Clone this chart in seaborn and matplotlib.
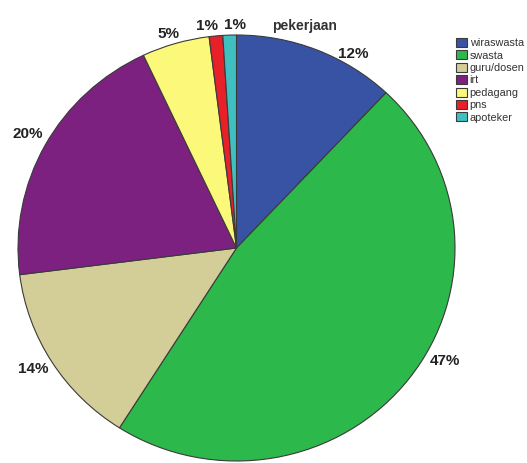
import matplotlib
matplotlib.use("Agg")
import matplotlib.pyplot as plt
import seaborn as sns

# ---- data ----
categories = ["wiraswasta", "swasta", "guru/dosen", "irt", "pedagang", "pns", "apoteker"]
values = [12, 47, 14, 20, 5, 1, 1]
pct_labels = ["12%", "47%", "14%", "20%", "5%", "1%", "1%"]
title = "pekerjaan"

# ---- style ----
colors = ["#3953A4", "#2DB84B", "#D3CE97", "#7C2180", "#FBF87A", "#E8202A", "#3FBFC0"]
label_xy = [(0.533, 0.911), (0.954, -0.531), (-0.931, -0.568), (-0.954, 0.535),
            (-0.309, 1.005), (-0.135, 1.042), (-0.007, 1.047)]

sns.set_theme(style="white")
plt.rcParams["font.family"] = ["Liberation Sans", "DejaVu Sans"]
palette = sns.color_palette(colors)

W, H = 527, 463
fig = plt.figure(figsize=(W / 100, H / 100), dpi=100)
fig.patch.set_facecolor("white")
ax = fig.add_axes([18 / W, 2 / H, 437 / W, 426 / H])

wedges, texts = ax.pie(values, colors=palette, startangle=90, counterclock=False,
                       labels=pct_labels, labeldistance=1.1,
                       wedgeprops=dict(edgecolor="#3a3a3a", linewidth=0.8))
ax.set_aspect("auto")
ax.set_xlim(-1, 1)
ax.set_ylim(-1, 1)
ax.axis("off")

for t, (x, y) in zip(texts, label_xy):
    t.set_position((x, y))
    t.set_ha("center")
    t.set_va("center")
    t.set_fontsize(11)
    t.set_fontweight("bold")
    t.set_color("#222222")
    t.set_clip_on(False)

fig.text(272 / W, 1 - 26 / H, title, ha="left", va="center",
         fontsize=10, fontweight="bold", color="#333333")

leg = fig.legend(wedges, categories, loc="upper left",
                 bbox_to_anchor=(456 / W, 1 - 38 / H), frameon=False,
                 fontsize=7.8, handlelength=1.0, handleheight=0.9,
                 handletextpad=0.25, labelspacing=0.2, borderpad=0,
                 borderaxespad=0)
for txt in leg.get_texts():
    txt.set_color("#333333")

fig.savefig("out.png", dpi=100, facecolor="white")
